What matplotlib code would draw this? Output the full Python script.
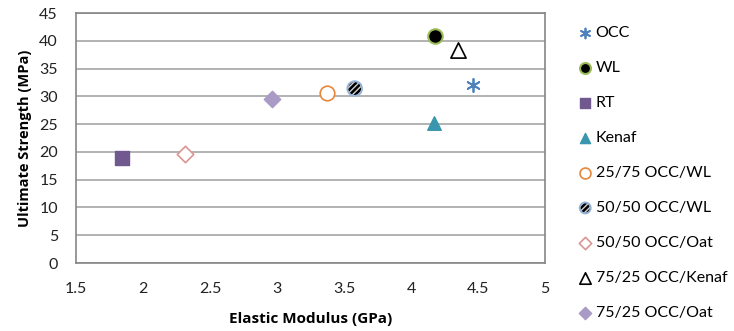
import matplotlib.pyplot as plt
from matplotlib.legend_handler import HandlerTuple

plt.rcParams['font.family'] = ['Lato', 'DejaVu Sans']
plt.rcParams['hatch.linewidth'] = 1.8

# data
labels = ['OCC', 'WL', 'RT', 'Kenaf', '25/75 OCC/WL', '50/50 OCC/WL',
          '50/50 OCC/Oat', '75/25 OCC/Kenaf', '75/25 OCC/Oat']
modulus = [4.46, 4.18, 1.84, 4.17, 3.37, 3.58, 2.31, 4.35, 2.96]
strength = [32.0, 40.9, 18.9, 25.2, 30.6, 31.4, 19.7, 38.3, 29.6]

fig = plt.figure(figsize=(7.34, 3.31), dpi=100)
ax = fig.add_axes([0.1035, 0.2054, 0.639, 0.7553])

handles = []
# OCC
h = ax.scatter(modulus[0], strength[0], marker=(6, 2, 0), s=90, color='#4F81BD', linewidths=1.3, zorder=3)
handles.append(h)
# WL
h = ax.scatter(modulus[1], strength[1], marker='o', s=110, facecolor='black', edgecolor='#9BBB59', linewidths=1.5, zorder=3)
handles.append(h)
# RT
h = ax.scatter(modulus[2], strength[2], marker='s', s=95, facecolor='#71588F', edgecolor='#71588F', zorder=3)
handles.append(h)
# Kenaf
h = ax.scatter(modulus[3], strength[3], marker='^', s=95, facecolor='#3A96AE', edgecolor='#3A96AE', zorder=3)
handles.append(h)
# 25/75 OCC/WL
h = ax.scatter(modulus[4], strength[4], marker='o', s=110, facecolor='white', edgecolor='#E8873A', linewidths=1.2, zorder=3)
handles.append(h)
# 50/50 OCC/WL (hatched)
h1 = ax.scatter(modulus[5], strength[5], marker='o', s=110, facecolor='#D0D0D0', edgecolor='black', hatch='//////', linewidths=0, zorder=3)
h2 = ax.scatter(modulus[5], strength[5], marker='o', s=110, facecolor='none', edgecolor='#95B3D7', linewidths=1.4, zorder=4)
handles.append((h1, h2))
# 50/50 OCC/Oat
h = ax.scatter(modulus[6], strength[6], marker='D', s=70, facecolor='white', edgecolor='#D99694', linewidths=1.2, zorder=3)
handles.append(h)
# 75/25 OCC/Kenaf
h = ax.scatter(modulus[7], strength[7], marker='^', s=120, facecolor='white', edgecolor='black', linewidths=1.2, zorder=3)
handles.append(h)
# 75/25 OCC/Oat
h = ax.scatter(modulus[8], strength[8], marker='D', s=70, facecolor='#A99BC6', edgecolor='#A99BC6', zorder=3)
handles.append(h)

ax.set_xlim(1.5, 5)
ax.set_ylim(0, 45)
ax.set_xticks([1.5, 2, 2.5, 3, 3.5, 4, 4.5, 5])
ax.set_xticklabels(['1.5', '2', '2.5', '3', '3.5', '4', '4.5', '5'])
ax.set_yticks(range(0, 50, 5))
ax.tick_params(length=0, labelsize=11.5, colors='#222222')
ax.tick_params(axis='x', pad=14)
ax.tick_params(axis='y', pad=13)
ax.yaxis.grid(True, color='#A6A6A6', linewidth=1.2)
ax.set_axisbelow(True)
for s in ax.spines.values():
    s.set_color('#868686')
    s.set_linewidth(1.2)

ax.set_xlabel('Elastic Modulus (GPa)', fontsize=11, fontweight='bold', family='Open Sans', labelpad=11)
ax.set_ylabel('Ultimate Strength (MPa)', fontsize=10.5, fontweight='bold', family='Open Sans', labelpad=5)

fig.legend(handles, labels, loc='upper left', bbox_to_anchor=(0.781, 0.94),
           frameon=False, fontsize=11.5, labelspacing=1.3, handlelength=0.7,
           handletextpad=0.3, borderaxespad=0, scatterpoints=1, markerscale=0.75,
           handler_map={tuple: HandlerTuple(ndivide=1)})

fig.savefig('out.png', dpi=100)
